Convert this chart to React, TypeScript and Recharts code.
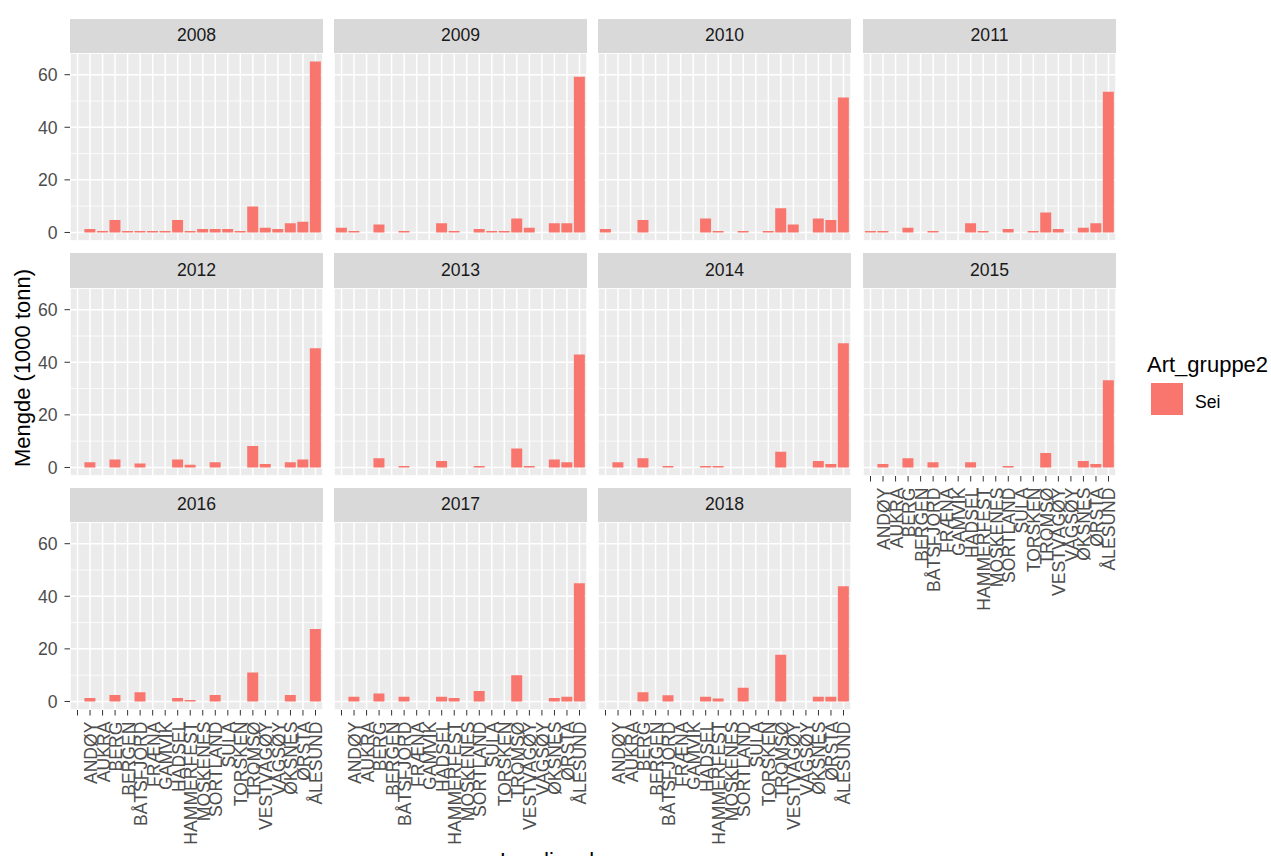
import React from "react";
import { Bar, BarChart, CartesianGrid, XAxis, YAxis } from "recharts";

const kommuner = [
  " ", "ANDØY", "AUKRA", "BERG", "BERGEN", "BÅTSFJORD", "FRÆNA", "GAMVIK", "HADSEL", "HAMMERFEST",
  "MOSKENES", "SORTLAND", "SULA", "TORSKEN", "TROMSØ", "VESTVÅGØY", "VÅGSØY", "ØKSNES", "ØRSTA", "ÅLESUND",
];

const y2008 = [null, 1.3, 0.6, 4.7, 0.6, 0.6, 0.6, 0.6, 4.7, 0.6, 1.3, 1.3, 1.3, 0.6, 9.9, 1.8, 1.3, 3.5, 4.1, 65];
const y2009 = [1.8, 0.6, null, 3.0, null, 0.6, null, null, 3.5, 0.6, null, 1.3, 0.6, 0.6, 5.3, 1.8, null, 3.5, 3.5, 59.2];
const y2010 = [1.3, null, null, 4.7, null, null, null, null, 5.3, 0.6, null, 0.6, null, 0.6, 9.2, 3.0, null, 5.3, 4.7, 51.3];
const y2011 = [0.6, 0.6, null, 1.8, null, 0.6, null, null, 3.5, 0.6, null, 1.3, null, 0.6, 7.6, 1.3, null, 1.8, 3.5, 53.5];
const y2012 = [null, 2.0, null, 3.0, null, 1.5, null, null, 3.0, 1.0, null, 2.0, null, null, 8.2, 1.3, null, 2.0, 3.0, 45.3];
const y2013 = [null, null, null, 3.5, null, 0.6, null, null, 2.5, null, null, 0.6, null, null, 7.2, 0.6, null, 3.0, 2.0, 43.0];
const y2014 = [null, 2.0, null, 3.5, null, 0.6, null, null, 0.6, 0.6, null, null, null, null, 6.0, null, null, 2.5, 1.3, 47.2];
const y2015 = [null, 1.3, null, 3.5, null, 2.0, null, null, 2.0, null, null, 0.6, null, null, 5.5, null, null, 2.5, 1.3, 33.2];
const y2016 = [null, 1.3, null, 2.5, null, 3.5, null, null, 1.3, 0.6, null, 2.5, null, null, 11.0, null, null, 2.5, null, 27.6];
const y2017 = [null, 1.8, null, 3.0, null, 1.8, null, null, 1.8, 1.3, null, 4.0, null, null, 10.0, null, null, 1.3, 1.8, 45.0];
const y2018 = [null, null, null, 3.5, null, 2.4, null, null, 1.8, 1.1, null, 5.2, null, null, 17.8, null, null, 1.8, 1.8, 43.8];

const years = ["2008", "2009", "2010", "2011", "2012", "2013", "2014", "2015", "2016", "2017", "2018"];
const yearValues = [y2008, y2009, y2010, y2011, y2012, y2013, y2014, y2015, y2016, y2017, y2018];

const majorTicks = [0, 20, 40, 60];
const minorTicks = [10, 30, 50];

const FONT = "'Liberation Sans', Arial, sans-serif";
const SMALL = 17.6;
const TITLE = 22;
const colLeft = [70, 334, 598, 863];
const rowTop = [53, 287.5, 522];
const panelW = 253;
const panelH = 188;
const stripH = 34.5;

const allValues = yearValues.flat().filter((v) => v != null) as number[];
const yMax = Math.max(...allValues);
const yDomain = [-0.05 * yMax, yMax * 1.05];

const XTick = (props: any) => {
  const { x, y, payload } = props;
  const cx = x + 1;
  return (
    <text
      x={cx}
      y={y}
      transform={`rotate(-90, ${cx}, ${y})`}
      textAnchor="end"
      dominantBaseline="central"
      fontSize={SMALL}
      fill="#4D4D4D"
      fontFamily={FONT}
    >
      {payload.value}
    </text>
  );
};

function Panel(props: { idx: number }) {
  const { idx } = props;
  const col = idx % 4;
  const row = Math.floor(idx / 4);
  const showY = col === 0;
  const showX = row === 2 || (row === 1 && col === 3);
  const yW = showY ? 70 : 0;
  const xH = showX ? 170 : 0;
  const rightPad = showX ? 14 : 0;
  const bottomPad = showY && !showX ? 8 : 0;
  const values = yearValues[idx];
  const data = kommuner.map((k, i) => ({ kommune: k, mengde: values[i] }));

  return (
    <>
      <div
        style={{
          position: "absolute",
          left: colLeft[col],
          top: rowTop[row] - stripH,
          width: panelW,
          height: stripH,
          background: "#D9D9D9",
          color: "#1A1A1A",
          fontSize: SMALL,
          fontFamily: FONT,
          display: "flex",
          alignItems: "center",
          justifyContent: "center",
        }}
      >
        {years[idx]}
      </div>
      <div style={{ position: "absolute", left: colLeft[col] - yW, top: rowTop[row] }}>
        <BarChart
          width={panelW + yW + rightPad}
          height={panelH + xH + bottomPad}
          data={data}
          margin={{ top: 0, right: rightPad, bottom: bottomPad, left: 0 }}
          barCategoryGap="5%"
        >
          <XAxis
            dataKey="kommune"
            hide={!showX}
            height={xH}
            interval={0}
            tick={<XTick />}
            tickLine={{ stroke: "#333333" }}
            axisLine={false}
            tickSize={5.5}
            tickMargin={6}
            padding={{ left: 1.25, right: 1.25 }}
          />
          <YAxis
            hide={!showY}
            width={yW}
            type="number"
            domain={yDomain}
            allowDataOverflow
            ticks={majorTicks}
            interval={0}
            tick={{ fill: "#4D4D4D", fontSize: SMALL, fontFamily: FONT }}
            tickLine={{ stroke: "#333333" }}
            axisLine={false}
            tickSize={5.5}
            tickMargin={7}
          />
          <YAxis
            yAxisId="minor"
            hide
            type="number"
            domain={yDomain}
            allowDataOverflow
            ticks={minorTicks}
            interval={0}
          />
          <CartesianGrid fill="#EBEBEB" fillOpacity={1} stroke="#FFFFFF" strokeWidth={1.5} />
          <CartesianGrid yAxisId="minor" vertical={false} stroke="#FFFFFF" strokeWidth={0.8} />
          <Bar dataKey="mengde" fill="#F8766D" isAnimationActive={false} />
        </BarChart>
      </div>
    </>
  );
}

export default function App() {
  return (
    <div
      style={{
        position: "relative",
        width: 1271,
        height: 856,
        overflow: "hidden",
        background: "#FFFFFF",
        fontFamily: FONT,
      }}
    >
      <style>{`body{margin:0;overflow:hidden}`}</style>
      {years.map((y, i) => (
        <Panel key={y} idx={i} />
      ))}
      <svg
        width={1271}
        height={856}
        style={{ position: "absolute", left: 0, top: 0, pointerEvents: "none" }}
      >
        <text
          x={30}
          y={368}
          transform="rotate(-90, 30, 368)"
          textAnchor="middle"
          fontSize={TITLE}
          fill="#000000"
          fontFamily={FONT}
        >
          Mengde (1000 tonn)
        </text>
        <text x={593} y={868} textAnchor="middle" fontSize={TITLE} fill="#000000" fontFamily={FONT}>
          Landingskommune
        </text>
        <text x={1147} y={371.5} fontSize={TITLE} fill="#000000" fontFamily={FONT}>
          Art_gruppe2
        </text>
        <rect x={1151} y={383} width={32} height={32} fill="#F8766D" />
        <text x={1195} y={408} fontSize={SMALL} fill="#000000" fontFamily={FONT}>
          Sei
        </text>
      </svg>
    </div>
  );
}
